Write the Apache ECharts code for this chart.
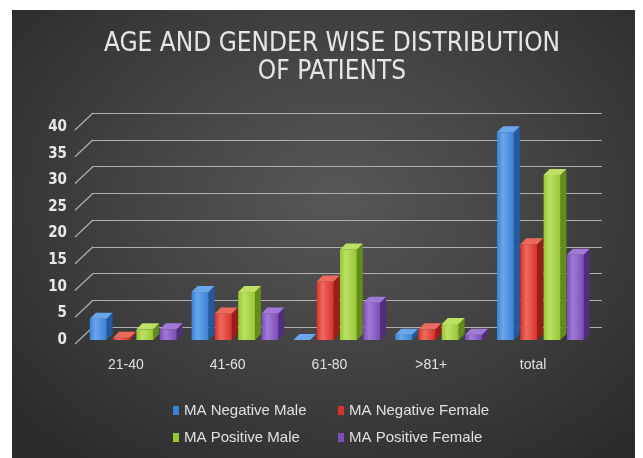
<!DOCTYPE html>
<html>
<head>
<meta charset="UTF-8">
<title>Age and gender wise distribution of patients</title>
<style>
  body { margin: 0; background: #fff; }
  #bg { position: absolute; left: 12px; top: 10px; width: 623px; height: 448px;
        background: radial-gradient(ellipse 70% 75% at 52% 42%, #575757 0%, #444 45%, #2a2a2a 100%); }
  #chart { position: absolute; left: 0; top: 0; width: 643px; height: 458px; }
</style>
</head>
<body>
<div id="bg"></div>
<div id="chart"></div>
<script src="https://cdn.jsdelivr.net/npm/echarts@6/dist/echarts.min.js"></script>
<script>
var categories = ['21-40', '41-60', '61-80', '>81+', 'total'];
var seriesNames = ['MA Negative Male', 'MA Negative Female', 'MA Positive Male', 'MA Positive Female'];
var negMale = [4, 9, 0, 1, 39];
var negFemale = [0.4, 5, 11, 2, 18];
var posMale = [2, 9, 17, 3, 31];
var posFemale = [2, 5, 7, 1, 16];
var yTicks = [0, 5, 10, 15, 20, 25, 30, 35, 40];

// front, top, side shades
var shades = [
  ['#3b82d6', '#6aa6ea', '#2459a0'],
  ['#d8322b', '#ee6a5f', '#9c1d18'],
  ['#96c832', '#bde065', '#648c1c'],
  ['#7d4cb8', '#a07ad6', '#4f2e7c']
];

function box(idx) {
  return function (params, api) {
    var c = api.value(0);
    var v = api.value(1);
    var base = api.coord([c, 0]);
    var top = api.coord([c, v]);
    var bw = api.size([1, 0])[0];
    var pitch = bw * 0.229;
    var w = bw * 0.165;
    var d = 6;
    var x = base[0] - bw * 0.453 + idx * pitch;
    var yb = base[1], yt = top[1];
    var s = shades[idx];
    return {
      type: 'group',
      children: [
        { type: 'polygon', shape: { points: [[x + w, yt], [x + w + d, yt - d], [x + w + d, yb - d], [x + w, yb]] },
          style: { fill: s[2] } },
        { type: 'rect', shape: { x: x, y: yt, width: w, height: yb - yt },
          style: { fill: new echarts.graphic.LinearGradient(0, 0, 1, 0, [
            { offset: 0, color: s[0] }, { offset: 0.35, color: s[1] }, { offset: 1, color: s[0] }]) } },
        { type: 'polygon', shape: { points: [[x, yt], [x + d, yt - d], [x + w + d, yt - d], [x + w, yt]] },
          style: { fill: s[1] } }
      ]
    };
  };
}

var allData = [negMale, negFemale, posMale, posFemale];
var series = allData.map(function (arr, i) {
  return {
    name: seriesNames[i],
    type: 'custom',
    xAxisIndex: 0,
    yAxisIndex: 0,
    renderItem: box(i),
    itemStyle: { color: shades[i][0] },
    encode: { x: 0, y: 1 },
    data: arr.map(function (v, k) { return [k, v]; }),
    z: 5 + i
  };
});

// diagonal ends of the back-wall gridlines
series.push({
  type: 'custom',
  xAxisIndex: 1,
  yAxisIndex: 1,
  silent: true,
  renderItem: function (params, api) {
    var p = api.coord([0, api.value(0)]);
    return { type: 'line', shape: { x1: p[0], y1: p[1], x2: p[0] - 18, y2: p[1] + 17 },
      style: { stroke: '#b0b0b0', lineWidth: 1.2 } };
  },
  data: yTicks.map(function (t) { return [t]; }),
  encode: { y: 0 },
  z: 1
});

var labelFont = 'DejaVu Sans Condensed';
var chart = echarts.init(document.getElementById('chart'));
chart.setOption({
  backgroundColor: 'transparent',
  title: {
    text: 'AGE AND GENDER WISE DISTRIBUTION\nOF PATIENTS',
    left: 327,
    top: 25,
    textAlign: 'center',
    textStyle: { color: '#e6e6e6', fontFamily: labelFont, fontWeight: 'normal', fontSize: 26, lineHeight: 28 }
  },
  legend: [
    { data: [seriesNames[0], seriesNames[2]], orient: 'vertical', left: 168, top: 398, itemGap: 12,
      icon: 'rect', itemWidth: 6, itemHeight: 9, itemStyle: { borderWidth: 0 },
      textStyle: { color: '#e0e0e0', fontFamily: 'Liberation Sans', fontSize: 15 } },
    { data: [seriesNames[1], seriesNames[3]], orient: 'vertical', left: 333, top: 398, itemGap: 12,
      icon: 'rect', itemWidth: 6, itemHeight: 9, itemStyle: { borderWidth: 0 },
      textStyle: { color: '#e0e0e0', fontFamily: 'Liberation Sans', fontSize: 15 } }
  ],
  grid: [
    { left: 85, right: 49, top: 127, bottom: 118 },
    { left: 93, right: 41, top: 113, bottom: 131 }
  ],
  xAxis: [
    { type: 'value', gridIndex: 0, min: -0.5, max: 4.5, show: false },
    { type: 'value', gridIndex: 1, min: 0, max: 1, show: false },
    { type: 'category', gridIndex: 0, data: categories, position: 'bottom',
      axisLine: { show: false }, axisTick: { show: false },
      axisLabel: { color: '#e0e0e0', fontFamily: 'Liberation Sans', fontSize: 14, margin: 18, padding: [0, 20, 0, 0] } }
  ],
  yAxis: [
    { type: 'value', gridIndex: 0, min: 0, max: 40, interval: 5,
      axisLine: { show: false }, axisTick: { show: false }, splitLine: { show: false },
      axisLabel: { color: '#e8e8e8', fontFamily: labelFont, fontWeight: 'bold', fontSize: 15, margin: 18 } },
    { type: 'value', gridIndex: 1, min: 0, max: 40, interval: 5,
      axisLine: { show: false }, axisTick: { show: false }, axisLabel: { show: false },
      splitLine: { show: true, lineStyle: { color: '#b0b0b0', width: 1.2 } } }
  ],
  series: series
});
</script>
</body>
</html>
